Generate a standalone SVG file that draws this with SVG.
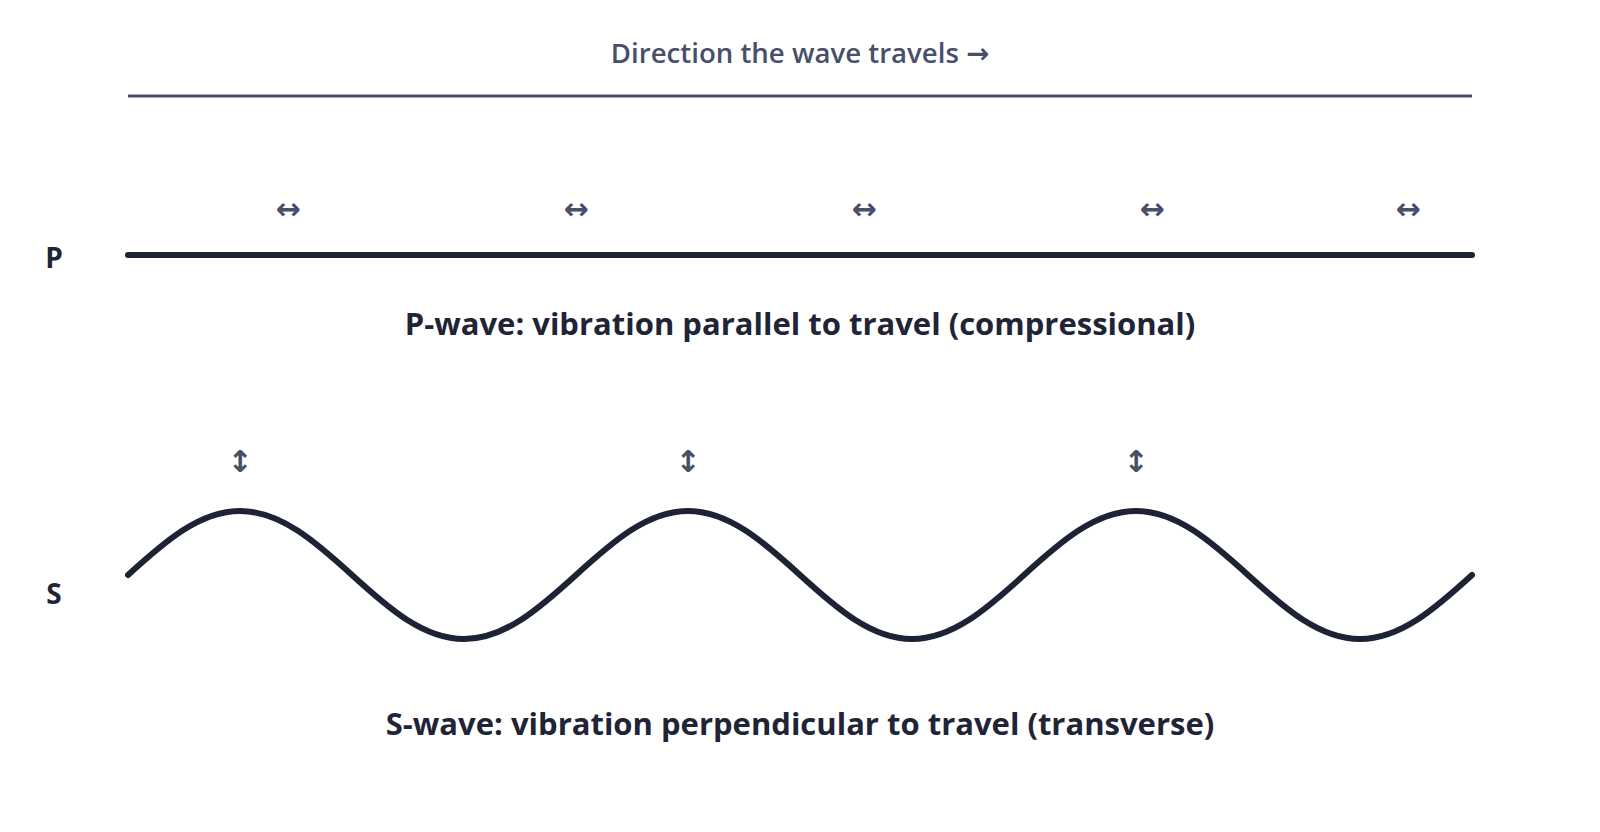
<svg xmlns="http://www.w3.org/2000/svg" width="1600" height="832" viewBox="0 0 1600 832">
<style>
.title{font-family:"Open Sans","Liberation Sans",sans-serif;font-size:27.6px;font-weight:600;fill:#474f6b;text-anchor:middle}
.ta{font-family:"DejaVu Sans",sans-serif;font-weight:700}
.cap{font-family:"Open Sans","Liberation Sans",sans-serif;font-size:31px;font-weight:700;fill:#1f2437;text-anchor:middle}
.lbl{font-family:"Open Sans","Liberation Sans",sans-serif;font-size:28px;font-weight:700;fill:#1f2437;text-anchor:middle}
.arr{font-family:"DejaVu Sans",sans-serif;font-size:30px;font-weight:700;fill:#474f6b;text-anchor:middle}
.wave{fill:none;stroke:#1e2235;stroke-width:6;stroke-linecap:round;stroke-linejoin:round}
</style>
<rect width="1600" height="832" fill="#ffffff"/>
<g id="header">
<text class="title" x="800" y="63">Direction the wave travels <tspan class="ta">→</tspan></text>
<line x1="128" y1="96" x2="1472" y2="96" stroke="#474f6b" stroke-width="3"/>
</g>
<g id="p-wave">
<text class="lbl" x="54" y="268">P</text>
<line class="wave" x1="128" y1="255" x2="1472" y2="255"/>
<text class="arr" x="288" y="219">↔</text>
<text class="arr" x="576" y="219">↔</text>
<text class="arr" x="864" y="219">↔</text>
<text class="arr" x="1152" y="219">↔</text>
<text class="arr" x="1408" y="219">↔</text>
<text class="cap" x="800" y="335">P-wave: vibration parallel to travel (compressional)</text>
</g>
<g id="s-wave">
<text class="lbl" x="54" y="604">S</text>
<path class="wave" d="M128,575 C164.5,541.7 199.5,511 240,511 C280.5,511 315.5,541.7 352,575 C388.5,608.3 423.5,639 464,639 C504.5,639 539.5,608.3 576,575 C612.5,541.7 647.5,511 688,511 C728.5,511 763.5,541.7 800,575 C836.5,608.3 871.5,639 912,639 C952.5,639 987.5,608.3 1024,575 C1060.5,541.7 1095.5,511 1136,511 C1176.5,511 1211.5,541.7 1248,575 C1284.5,608.3 1319.5,639 1360,639 C1400.5,639 1435.5,608.3 1472,575"/>
<text class="arr" x="240" y="472">↕</text>
<text class="arr" x="688" y="472">↕</text>
<text class="arr" x="1136" y="472">↕</text>
<text class="cap" x="800" y="735">S-wave: vibration perpendicular to travel (transverse)</text>
</g>
<g id="connectors"></g>
</svg>
